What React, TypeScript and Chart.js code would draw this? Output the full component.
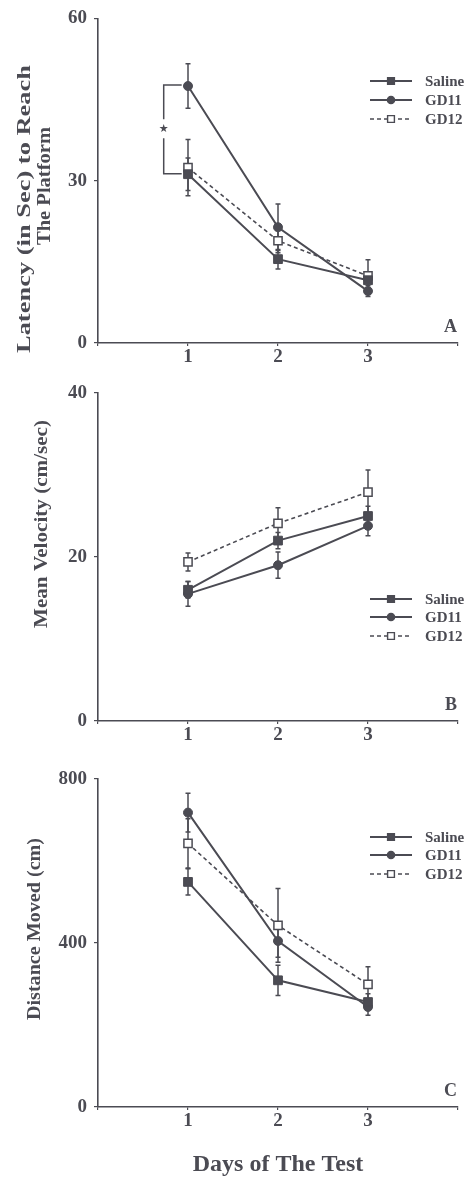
import React, { useEffect, useRef } from 'react';
import { Chart, registerables } from 'chart.js';

Chart.register(...registerables);

// ---------- DATA ----------
const days = [1, 2, 3];
const xTickLabels = ['1', '2', '3'];
const seriesNames = ['Saline', 'GD11', 'GD12'];

// Panel A: latency (sec)
const latencySaline = [31.2, 15.5, 11.6];
const latencySalineErr = [3.0, 1.8, 1.5];
const latencyGD11 = [47.5, 21.4, 9.6];
const latencyGD11Err = [4.1, 4.3, 1.0];
const latencyGD12 = [32.4, 18.9, 12.4];
const latencyGD12Err = [5.2, 2.2, 3.0];
const latencyTicks = [0, 30, 60];

// Panel B: mean velocity (cm/sec)
const velocitySaline = [16.0, 22.0, 25.0];
const velocitySalineErr = [1.0, 1.0, 1.2];
const velocityGD11 = [15.5, 19.0, 23.8];
const velocityGD11Err = [1.5, 1.6, 1.2];
const velocityGD12 = [19.4, 24.1, 27.9];
const velocityGD12Err = [1.1, 1.9, 2.7];
const velocityTicks = [0, 20, 40];

// Panel C: distance moved (cm)
const distanceSaline = [549, 309, 256];
const distanceSalineErr = [32, 37, 20];
const distanceGD11 = [718, 405, 244];
const distanceGD11Err = [47, 40, 20];
const distanceGD12 = [643, 443, 299];
const distanceGD12Err = [60, 90, 43];
const distanceTicks = [0, 400, 800];

// significance bracket (data units, panel A)
const sigBracketX = [0.73, 0.93];
const sigBracketY = [47.7, 31.3];
const sigMark = '★';

// ---------- STYLE ----------
const INK = '#4b4b53';
const FONT = '"Liberation Serif", "Times New Roman", serif';

const errorBarPlugin = {
  id: 'errorBars',
  beforeDatasetsDraw(chart: any) {
    const { ctx } = chart;
    chart.data.datasets.forEach((ds: any, i: number) => {
      const errs = ds.errorBars;
      if (!errs) return;
      const meta = chart.getDatasetMeta(i);
      const yScale = chart.scales.y;
      ctx.save();
      ctx.strokeStyle = INK;
      ctx.lineWidth = 1.5;
      ctx.setLineDash([]);
      meta.data.forEach((pt: any, j: number) => {
        const v = ds.data[j].y;
        const e = errs[j];
        const yTop = yScale.getPixelForValue(v + e);
        const yBot = yScale.getPixelForValue(v - e);
        const px = pt.x;
        ctx.beginPath();
        ctx.moveTo(px, yTop);
        ctx.lineTo(px, yBot);
        ctx.moveTo(px - 2.5, yTop);
        ctx.lineTo(px + 2.5, yTop);
        ctx.moveTo(px - 2.5, yBot);
        ctx.lineTo(px + 2.5, yBot);
        ctx.stroke();
      });
      ctx.restore();
    });
  },
};

function drawMarker(ctx: CanvasRenderingContext2D, style: string, x: number, y: number, r: number, fill: string) {
  ctx.save();
  ctx.setLineDash([]);
  ctx.fillStyle = fill;
  ctx.strokeStyle = INK;
  ctx.lineWidth = 1.4;
  ctx.beginPath();
  if (style === 'circle') ctx.arc(x, y, r, 0, Math.PI * 2);
  else ctx.rect(x - r, y - r, 2 * r, 2 * r);
  ctx.fill();
  ctx.stroke();
  ctx.restore();
}

const legendPlugin = {
  id: 'sideLegend',
  afterDraw(chart: any, _a: any, opts: any) {
    const { ctx } = chart;
    const rows: number[] = opts.rows || [];
    chart.data.datasets.forEach((ds: any, i: number) => {
      const y = rows[i];
      ctx.save();
      ctx.strokeStyle = INK;
      ctx.lineWidth = ds.borderWidth;
      ctx.setLineDash(ds.borderDash || []);
      ctx.beginPath();
      ctx.moveTo(370, y);
      ctx.lineTo(412, y);
      ctx.stroke();
      ctx.restore();
      drawMarker(ctx, ds.pointStyle, 391, y, ds.pointStyle === 'circle' ? 3.6 : 3.4, ds.pointBackgroundColor);
      ctx.save();
      ctx.fillStyle = INK;
      ctx.font = `bold 15px ${FONT}`;
      ctx.textAlign = 'left';
      ctx.textBaseline = 'middle';
      ctx.fillText(ds.label, 425, y + 1);
      ctx.restore();
    });
  },
};

const yTitlePlugin = {
  id: 'yTitle',
  afterDraw(chart: any, _a: any, opts: any) {
    const { ctx } = chart;
    (opts.lines || []).forEach((l: any) => {
      ctx.save();
      ctx.font = `bold ${opts.size}px ${FONT}`;
      const w = ctx.measureText(l.text).width;
      ctx.translate(l.cx, l.cy);
      ctx.rotate(-Math.PI / 2);
      ctx.scale(l.len / w, 1);
      ctx.fillStyle = INK;
      ctx.textAlign = 'center';
      ctx.textBaseline = 'middle';
      ctx.fillText(l.text, 0, 0);
      ctx.restore();
    });
  },
};

const letterPlugin = {
  id: 'panelLetter',
  afterDraw(chart: any, _a: any, opts: any) {
    if (!opts.text) return;
    const { ctx, chartArea } = chart;
    ctx.save();
    ctx.fillStyle = INK;
    ctx.font = `bold 18px ${FONT}`;
    ctx.textAlign = 'right';
    ctx.textBaseline = 'middle';
    ctx.fillText(opts.text, chartArea.right - 1, chartArea.bottom - 16);
    ctx.restore();
  },
};

const bracketPlugin = {
  id: 'sigBracket',
  afterDatasetsDraw(chart: any, _a: any, opts: any) {
    if (!opts.show) return;
    const { ctx, scales } = chart;
    const x0 = scales.x.getPixelForValue(sigBracketX[0]);
    const x1 = scales.x.getPixelForValue(sigBracketX[1]);
    const yT = scales.y.getPixelForValue(sigBracketY[0]);
    const yB = scales.y.getPixelForValue(sigBracketY[1]);
    const ym = (yT + yB) / 2;
    ctx.save();
    ctx.strokeStyle = INK;
    ctx.lineWidth = 1.5;
    ctx.beginPath();
    ctx.moveTo(x1, yT);
    ctx.lineTo(x0, yT);
    ctx.lineTo(x0, ym - 10);
    ctx.moveTo(x0, ym + 9);
    ctx.lineTo(x0, yB);
    ctx.lineTo(x1, yB);
    ctx.stroke();
    ctx.fillStyle = INK;
    ctx.font = '11px "DejaVu Sans"';
    ctx.textAlign = 'center';
    ctx.textBaseline = 'middle';
    ctx.fillText(sigMark, x0, ym);
    ctx.restore();
  },
};

function makeDatasets(series: number[][], errors: number[][]) {
  return seriesNames.map((name, i) => ({
    label: name,
    data: days.map((d, j) => ({ x: d, y: series[i][j] })),
    errorBars: errors[i],
    borderColor: INK,
    backgroundColor: i === 2 ? '#ffffff' : INK,
    pointBackgroundColor: i === 2 ? '#ffffff' : INK,
    pointBorderColor: INK,
    pointBorderWidth: i === 2 ? 1.5 : 1,
    pointStyle: i === 1 ? 'circle' : 'rect',
    pointRadius: i === 1 ? 4.5 : i === 0 ? 6.2 : 5.8,
    borderWidth: i === 2 ? 1.6 : 2,
    borderDash: i === 2 ? [4, 3] : [],
    tension: 0,
    fill: false,
  }));
}

type Panel = {
  top: number;
  height: number;
  areaTop: number;
  xAxisHeight: number;
  yMax: number;
  yTicks: number[];
  series: number[][];
  errors: number[][];
  titleLines: { text: string; cx: number; cy: number; len: number }[];
  legendRows: number[];
  letter: string;
  xTitle?: string;
  bracket?: boolean;
};

const panels: Panel[] = [
  {
    top: 0,
    height: 372,
    areaTop: 16,
    xAxisHeight: 29,
    yMax: 60,
    yTicks: latencyTicks,
    series: [latencySaline, latencyGD11, latencyGD12],
    errors: [latencySalineErr, latencyGD11Err, latencyGD12Err],
    titleLines: [
      { text: 'Latency (in Sec) to Reach', cx: 25, cy: 209, len: 288 },
      { text: 'The Platform', cx: 45, cy: 186, len: 118 },
    ],
    legendRows: [81, 100, 119],
    letter: 'A',
    bracket: true,
  },
  {
    top: 372,
    height: 378,
    areaTop: 21,
    xAxisHeight: 29,
    yMax: 40,
    yTicks: velocityTicks,
    series: [velocitySaline, velocityGD11, velocityGD12],
    errors: [velocitySalineErr, velocityGD11Err, velocityGD12Err],
    titleLines: [{ text: 'Mean Velocity (cm/sec)', cx: 42, cy: 152, len: 208 }],
    legendRows: [227, 245, 264],
    letter: 'B',
  },
  {
    top: 750,
    height: 428,
    areaTop: 29,
    xAxisHeight: 71,
    yMax: 800,
    yTicks: distanceTicks,
    series: [distanceSaline, distanceGD11, distanceGD12],
    errors: [distanceSalineErr, distanceGD11Err, distanceGD12Err],
    titleLines: [{ text: 'Distance Moved (cm)', cx: 35, cy: 179, len: 182 }],
    legendRows: [87, 105, 124],
    letter: 'C',
    xTitle: 'Days of The Test',
  },
];

function PanelChart({ cfg }: { cfg: Panel }) {
  const ref = useRef<HTMLCanvasElement>(null);
  useEffect(() => {
    const chart = new Chart(ref.current as HTMLCanvasElement, {
      type: 'line',
      data: { datasets: makeDatasets(cfg.series, cfg.errors) as any },
      plugins: [errorBarPlugin, legendPlugin, yTitlePlugin, letterPlugin, bracketPlugin] as any,
      options: {
        responsive: false,
        animation: false,
        devicePixelRatio: 1,
        events: [],
        layout: { padding: { top: cfg.areaTop, right: 17, left: 0, bottom: 0 } },
        scales: {
          x: {
            type: 'linear',
            min: 0,
            max: 4,
            afterBuildTicks: (s: any) => {
              s.ticks = [0, 1, 2, 3, 4].map((v) => ({ value: v }));
            },
            afterFit: (s: any) => {
              s.height = cfg.xAxisHeight;
            },
            ticks: {
              autoSkip: false,
              maxRotation: 0,
              padding: 2,
              color: INK,
              font: { family: FONT, size: 19, weight: 'bold', lineHeight: 1 },
              callback: (v: any) => {
                const k = days.indexOf(Number(v));
                return k >= 0 ? xTickLabels[k] : '';
              },
            },
            grid: { display: true, drawOnChartArea: false, drawTicks: true, tickLength: 3, color: INK, lineWidth: 1.2 },
            border: { display: true, color: INK, width: 1.6 },
            title: cfg.xTitle
              ? {
                  display: true,
                  text: cfg.xTitle,
                  color: INK,
                  font: { family: FONT, size: 24, weight: 'bold', lineHeight: 1 },
                  padding: { top: 0, bottom: 1 },
                }
              : { display: false },
          },
          y: {
            type: 'linear',
            min: 0,
            max: cfg.yMax,
            afterBuildTicks: (s: any) => {
              s.ticks = cfg.yTicks.map((v) => ({ value: v }));
            },
            afterFit: (s: any) => {
              s.width = 98;
            },
            ticks: {
              padding: 7,
              color: INK,
              font: { family: FONT, size: 19, weight: 'bold' },
              callback: (v: any) => String(v),
            },
            grid: { display: true, drawOnChartArea: false, drawTicks: true, tickLength: 4, color: INK, lineWidth: 1.2 },
            border: { display: true, color: INK, width: 1.6 },
          },
        },
        plugins: {
          legend: { display: false },
          tooltip: { enabled: false },
          sideLegend: { rows: cfg.legendRows },
          yTitle: { size: 19, lines: cfg.titleLines },
          panelLetter: { text: cfg.letter },
          sigBracket: { show: !!cfg.bracket },
        } as any,
      },
    });
    return () => chart.destroy();
  }, [cfg]);
  return (
    <canvas
      ref={ref}
      width={475}
      height={cfg.height}
      style={{ position: 'absolute', left: 0, top: cfg.top, width: 475, height: cfg.height, display: 'block' }}
    />
  );
}

export default function App() {
  return (
    <div style={{ position: 'absolute', left: 0, top: 0, width: 475, height: 1178, background: '#ffffff' }}>
      {panels.map((p, i) => (
        <PanelChart key={i} cfg={p} />
      ))}
    </div>
  );
}
